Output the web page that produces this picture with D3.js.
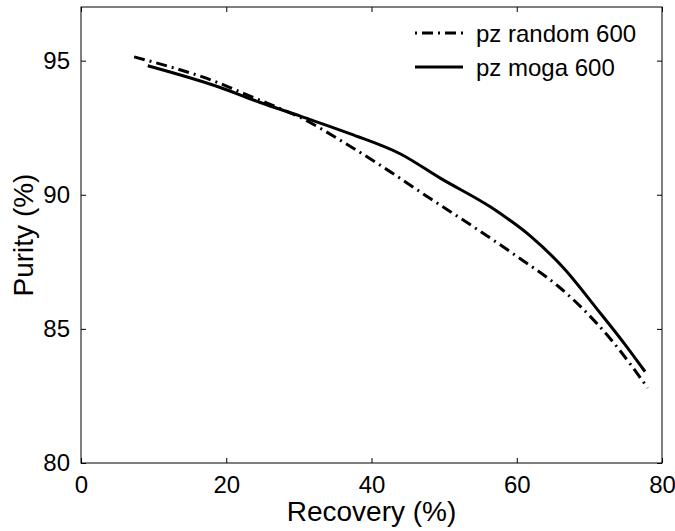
<!DOCTYPE html>
<html><head><meta charset="utf-8">
<script src="https://cdn.jsdelivr.net/npm/d3@7"></script>
<style>body{margin:0;background:#fff}svg{display:block}text{font-family:"Liberation Sans",Arial,sans-serif;fill:#000}</style>
</head><body>
<svg id="c" width="675" height="531"></svg>
<script>
const xTicks = [0, 20, 40, 60, 80];
const yTicks = [80, 85, 90, 95];
const seriesNames = ["pz random 600", "pz moga 600"];
const randomRecovery = [7.31, 12.28, 19.17, 22.62, 26.48, 30.21, 36.14, 42.34, 48.14, 54.07, 60.14, 65.79, 68.83, 73.38, 78.03];
const randomPurity   = [95.14, 94.77, 94.15, 93.75, 93.32, 92.88, 91.96, 90.90, 89.85, 88.80, 87.68, 86.57, 85.82, 84.47, 82.80];
const mogaRecovery = [9.19, 19.17, 24.69, 30.21, 37.10, 44.0, 49.52, 56.41, 61.93, 66.48, 71.17, 74.76, 77.66];
const mogaPurity   = [94.81, 94.0, 93.44, 92.93, 92.27, 91.52, 90.61, 89.54, 88.45, 87.26, 85.70, 84.47, 83.41];

const svg = d3.select("#c");
const L = 81, R = 662, T = 7, B = 463;
const x = d3.scaleLinear().domain([0, 80]).range([L, R]);
const y = d3.scaleLinear().domain([80, 97]).range([B, T]);

// frame
svg.append("rect").attr("x", L).attr("y", T).attr("width", R - L).attr("height", B - T)
  .attr("fill", "none").attr("stroke", "#000").attr("stroke-width", 1);

const tl = 5;
const gx = svg.append("g").attr("transform", `translate(0,${B})`)
  .call(d3.axisBottom(x).tickValues(xTicks).tickSize(-tl).tickPadding(tl + 8).tickFormat(d3.format("d")));
const gxt = svg.append("g").attr("transform", `translate(0,${T})`)
  .call(d3.axisTop(x).tickValues(xTicks).tickSize(-tl).tickFormat(""));
const gy = svg.append("g").attr("transform", `translate(${L},0)`)
  .call(d3.axisLeft(y).tickValues(yTicks).tickSize(-tl).tickPadding(tl + 6).tickFormat(d3.format("d")));
const gyr = svg.append("g").attr("transform", `translate(${R},0)`)
  .call(d3.axisRight(y).tickValues(yTicks).tickSize(-tl).tickFormat(""));
[gx, gxt, gy, gyr].forEach(g => {
  g.select(".domain").remove();
  g.selectAll("line").attr("stroke", "#000");
  g.selectAll("text").style("font-size", "24px").attr("fill", "#000")
    .style("font-family", '"Liberation Sans",Arial,sans-serif');
});

const line = d3.line().x(d => x(d[0])).y(d => y(d[1])).curve(d3.curveMonotoneX);
const randomData = randomRecovery.map((v, i) => [v, randomPurity[i]]);
const mogaData = mogaRecovery.map((v, i) => [v, mogaPurity[i]]);
const dash = "11,5,2,5";
svg.append("path").datum(randomData).attr("d", line).attr("fill", "none")
  .attr("stroke", "#000").attr("stroke-width", 3).attr("stroke-dasharray", dash);
svg.append("path").datum(mogaData).attr("d", line).attr("fill", "none")
  .attr("stroke", "#000").attr("stroke-width", 3);

// labels
svg.append("text").attr("x", (L + R) / 2).attr("y", 521).attr("text-anchor", "middle")
  .style("font-size", "28px").text("Recovery (%)");
svg.append("text").attr("transform", `translate(33,${(T + B) / 2}) rotate(-90)`).attr("text-anchor", "middle")
  .style("font-size", "28px").text("Purity (%)");

// legend
const leg = svg.append("g");
[0, 1].forEach(i => {
  const cy = 33 + i * 34;
  leg.append("line").attr("x1", 415).attr("x2", 463).attr("y1", cy).attr("y2", cy)
    .attr("stroke", "#000").attr("stroke-width", 3)
    .attr("stroke-dasharray", i === 0 ? "2,5,11,5" : null);
  leg.append("text").attr("x", 476).attr("y", cy + 8.5).style("font-size", "24px").text(seriesNames[i]);
});
</script>
</body></html>
